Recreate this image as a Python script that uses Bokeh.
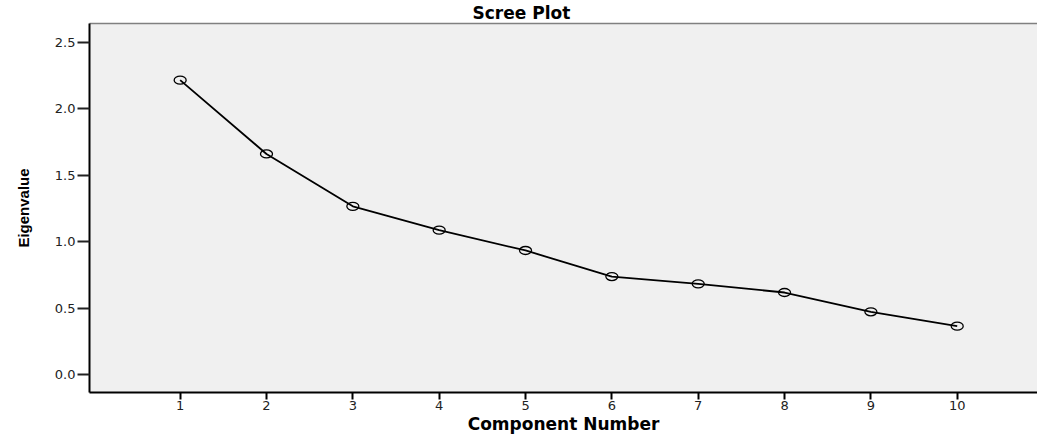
from bokeh.plotting import figure
from bokeh.models import (LinearAxis, FixedTicker, PrintfTickFormatter,
                          ColumnDataSource, Range1d)
from bokeh.embed import file_html
from bokeh.resources import INLINE

# ---- data ----
components = [1, 2, 3, 4, 5, 6, 7, 8, 9, 10]
eigenvalues = [2.215, 1.660, 1.266, 1.087, 0.934, 0.738, 0.683, 0.618, 0.473, 0.365]
x_ticks = [1, 2, 3, 4, 5, 6, 7, 8, 9, 10]
y_ticks = [0.0, 0.5, 1.0, 1.5, 2.0, 2.5]
title_text = "Scree Plot"
x_label = "Component Number"
y_label = "Eigenvalue"

src = ColumnDataSource(dict(x=components, y=eigenvalues))

p = figure(width=1037, height=436, output_backend="svg", toolbar_location=None,
           x_range=Range1d(-0.05, 10.93), y_range=Range1d(-0.134, 2.641),
           min_border_left=89, min_border_right=0, min_border_top=0,
           min_border_bottom=0, x_axis_type=None, y_axis_type=None,
           title=title_text)

p.background_fill_color = "#f0f0f0"
p.border_fill_color = "white"
p.outline_line_color = None
p.xgrid.visible = False
p.ygrid.visible = False

p.title.align = "left"
p.title.offset = 383
p.title.standoff = 1
p.title.text_font = "DejaVu Sans"
p.title.text_font_style = "bold"
p.title.text_font_size = "17px"
p.title.text_color = "black"

tick_font = "DejaVu Sans"

# bottom axis
xa = LinearAxis(ticker=FixedTicker(ticks=x_ticks), axis_label=x_label)
xa.axis_line_color = "black"
xa.axis_line_width = 2
xa.major_tick_line_color = "black"
xa.major_tick_line_width = 2
xa.major_tick_out = 7
xa.major_tick_in = 0
xa.minor_tick_line_color = None
xa.major_label_standoff = 1
xa.major_label_text_font = tick_font
xa.major_label_text_font_size = "13px"
xa.major_label_text_color = "#222222"
xa.axis_label_standoff = 1
xa.axis_label_text_font = "DejaVu Sans"
xa.axis_label_text_font_style = "bold"
xa.axis_label_text_font_size = "17px"
xa.axis_label_text_color = "black"
p.add_layout(xa, "below")

# left axis
ya = LinearAxis(ticker=FixedTicker(ticks=y_ticks),
                formatter=PrintfTickFormatter(format="%.1f"), axis_label=y_label)
ya.axis_line_color = "black"
ya.axis_line_width = 2
ya.major_tick_line_color = "#222222"
ya.major_tick_line_width = 2
ya.major_tick_out = 12
ya.major_tick_in = 0
ya.minor_tick_line_color = None
ya.major_label_standoff = 2
ya.major_label_text_font = tick_font
ya.major_label_text_font_size = "13px"
ya.major_label_text_color = "#222222"
ya.axis_label_standoff = 20
ya.axis_label_text_font = "Liberation Sans"
ya.axis_label_text_font_style = "bold"
ya.axis_label_text_font_size = "15px"
ya.axis_label_text_color = "black"
p.add_layout(ya, "left")

# top frame line
ta = LinearAxis(ticker=FixedTicker(ticks=[]))
ta.axis_line_color = "#808080"
ta.axis_line_width = 1.5
ta.major_tick_line_color = None
ta.minor_tick_line_color = None
ta.major_label_text_font_size = "0px"
p.add_layout(ta, "above")

# data
p.line("x", "y", source=src, line_color="black", line_width=1.8)
p.ellipse("x", "y", source=src, width=12, height=8, width_units="screen",
          height_units="screen", fill_color=None, line_color="black", line_width=1.3)

open("out.html", "w").write(file_html(p, INLINE))
